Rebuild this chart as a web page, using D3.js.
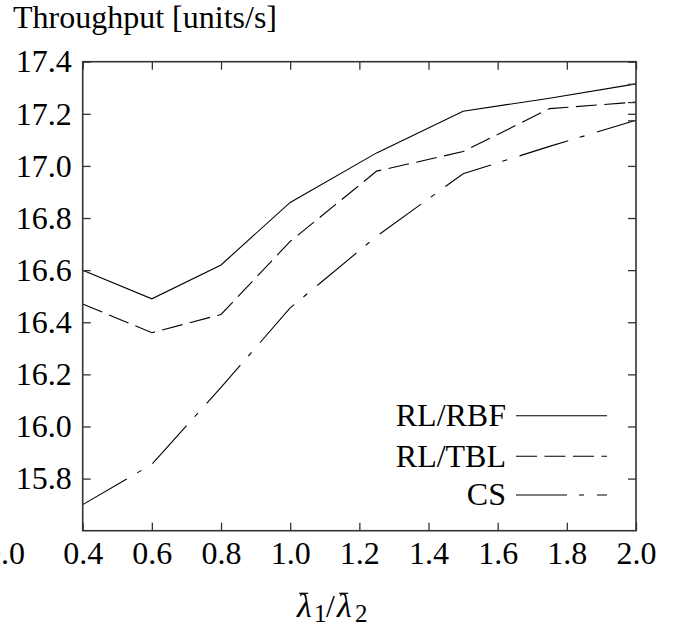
<!DOCTYPE html>
<html><head><meta charset="utf-8">
<script src="https://cdn.jsdelivr.net/npm/d3@7/dist/d3.min.js"></script>
<style>
html,body{margin:0;padding:0;background:#fff;}
svg{display:block;}
</style></head>
<body>
<svg id="chart" width="680" height="630" style="font-family:'Liberation Serif','Times New Roman',serif"></svg>
<script>
const xValues = [0.4, 0.6, 0.8, 1.0, 1.25, 1.5, 1.75, 2.0];
const rlRbf  = [16.60, 16.49, 16.62, 16.86, 17.05, 17.21, 17.26, 17.315];
const rlTbl  = [16.47, 16.36, 16.43, 16.71, 16.98, 17.055, 17.22, 17.245];
const csVals = [15.70, 15.855, 16.15, 16.455, 16.73, 16.97, 17.075, 17.175];
const seriesNames = ["RL/RBF", "RL/TBL", "CS"];
const xTicks = [0.4, 0.6, 0.8, 1.0, 1.2, 1.4, 1.6, 1.8, 2.0];
const yTicks = [15.8, 16.0, 16.2, 16.4, 16.6, 16.8, 17.0, 17.2, 17.4];
const yDomain = [15.6, 17.4];
const yTitle = "Throughput [units/s]";
const strayLabel = "0.0";

const SERIF = "'Liberation Serif','Times New Roman',serif";
const svg = d3.select("#chart");
const L = 82.7, R = 636, T = 61.7, B = 530.7;
const FS = 32;
const x = d3.scaleLinear().domain([0.4, 2.0]).range([L, R]);
const y = d3.scaleLinear().domain(yDomain).range([B, T]);

const series = [
  {name: seriesNames[0], vals: rlRbf, dash: null},
  {name: seriesNames[1], vals: rlTbl, dash: "21,7.5"},
  {name: seriesNames[2], vals: csVals, dash: "51,12,5,13"}
];

const line = d3.line().x((d, i) => x(xValues[i])).y(d => y(d));
series.forEach(s => {
  svg.append("path").attr("d", line(s.vals))
    .attr("fill", "none").attr("stroke", "#000").attr("stroke-width", 1.1)
    .attr("stroke-dasharray", s.dash);
});

function styleAxis(g) {
  g.attr("font-family", null).attr("font-size", null);
  g.select(".domain").remove();
  g.selectAll(".tick line").attr("stroke", "#333").attr("stroke-width", 1.3);
  g.selectAll(".tick text").attr("font-size", FS).style("font-family", SERIF).attr("fill", "#000");
}

svg.append("g").attr("transform", `translate(0,${B})`)
  .call(d3.axisBottom(x).tickValues(xTicks).tickSize(-8).tickPadding(11).tickFormat(d3.format(".1f")))
  .call(styleAxis);
svg.append("g").attr("transform", `translate(${L},0)`)
  .call(d3.axisLeft(y).tickValues(yTicks).tickSize(-8).tickPadding(11).tickFormat(d3.format(".1f")))
  .call(styleAxis);
svg.append("g").attr("transform", `translate(0,${T})`)
  .call(d3.axisTop(x).tickValues(xTicks).tickSize(-8).tickFormat(""))
  .call(styleAxis);
const rightTicks = yTicks.concat(series.map(s => s.vals[s.vals.length - 1]));
svg.append("g").attr("transform", `translate(${R},0)`)
  .call(d3.axisRight(y).tickValues(rightTicks).tickSize(-8).tickFormat(""))
  .call(styleAxis);

svg.append("rect").attr("x", L).attr("y", T).attr("width", R - L).attr("height", B - T)
  .attr("fill", "none").attr("stroke", "#333").attr("stroke-width", 1.6);

// stray clipped label at left
svg.append("text").attr("x", 25).attr("y", B + 11).attr("dy", "0.71em")
  .attr("text-anchor", "end").attr("font-size", FS).style("font-family", SERIF).text(strayLabel);

// y title
svg.append("text").attr("x", 13).attr("y", 28).attr("font-size", 32).style("font-family", SERIF).text(yTitle);

// legend
const legY = [415.7, 456.3, 495];
series.forEach((s, i) => {
  svg.append("text").attr("x", 506).attr("y", legY[i]).attr("dy", "0.32em")
    .attr("text-anchor", "end").attr("font-size", FS).style("font-family", SERIF).text(s.name);
  svg.append("line").attr("x1", 516).attr("x2", 607).attr("y1", legY[i]).attr("y2", legY[i])
    .attr("stroke", "#000").attr("stroke-width", 1.1).attr("stroke-dasharray", s.dash);
});

// x title: lambda-bar_1 / lambda-bar_2
const xt = svg.append("text").attr("y", 616.7).attr("font-size", 32).style("font-family", SERIF);
xt.append("tspan").attr("x", 297).attr("font-size", 34).attr("font-style", "italic").text("λ");
xt.append("tspan").attr("x", 314).attr("font-size", 25).attr("dy", 5).text("1");
xt.append("tspan").attr("x", 326).attr("dy", -5).text("/");
xt.append("tspan").attr("x", 337).attr("font-size", 34).attr("font-style", "italic").text("λ");
xt.append("tspan").attr("x", 355).attr("font-size", 25).attr("dy", 5).text("2");
const node = xt.node();
[0, 3].forEach(ci => {
  const ext = node.getExtentOfChar(ci);
  const x1 = ext.x + ext.width * 0.15;
  svg.append("line").attr("x1", x1).attr("x2", x1 + 9).attr("y1", 593.3).attr("y2", 593.3)
    .attr("stroke", "#000").attr("stroke-width", 1.2);
});
</script>
</body></html>
